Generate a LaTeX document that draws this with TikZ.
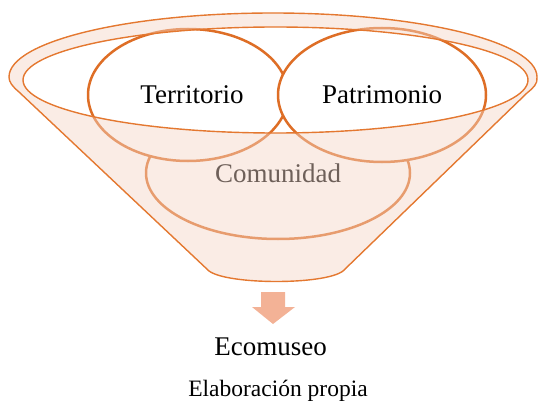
\documentclass[tikz,border=0pt]{standalone}
\usepackage{fontspec}
\setmainfont{Liberation Serif}
\usepackage{tikz}
\usetikzlibrary{shapes.geometric, positioning}
\definecolor{rimorange}{RGB}{228, 120, 48}
\definecolor{ringorange}{RGB}{222, 110, 38}
\definecolor{peachfill}{RGB}{244, 213, 198}
\definecolor{arrowsalmon}{RGB}{243, 178, 150}

\begin{document}
\begin{tikzpicture}[
    x=1pt, y=1pt,
    ring/.style={ellipse, draw=ringorange, line width=2.5pt, fill=white, inner sep=0pt, font=\fontsize{27pt}{30pt}\selectfont},
    rimline/.style={draw=rimorange, line width=1.4pt},
    funnelshape/.style={insert path={(9,-77) arc[start angle=180, end angle=0, x radius=264, y radius=64]
        .. controls (538,-84) and (533,-88) .. (527,-93) -- (343,-271)
        .. controls (325,-285) and (228,-285) .. (209,-271) -- (19,-92)
        .. controls (12,-86) and (9,-82) .. cycle}},
    label/.style={font=\fontsize{27pt}{30pt}\selectfont, inner sep=0pt, anchor=base}
]
    \useasboundingbox (0,0) rectangle (538,-401);

    % Nodes - circles inside the funnel
    \node[ring, minimum width=264pt, minimum height=132pt] (comunidad) at (278,-173) {Comunidad};
    \node[ring, minimum width=200pt, minimum height=132pt] (territorio) at (188,-95) {\hspace*{8pt}Territorio};
    \node[ring, minimum width=208pt, minimum height=134pt] (patrimonio) at (382,-95) {Patrimonio};
    \coordinate (rim) at (275.5,-80);

    % Funnel body, seen through
    \fill[peachfill, opacity=.45, even odd rule, funnelshape] (rim) ellipse [x radius=252.5, y radius=53];
    \draw[rimline, funnelshape];
    \draw[rimline] (rim) ellipse [x radius=252.5, y radius=53];

    % Arrow and result
    \fill[arrowsalmon] (261,-292) -- (285,-292) -- (285,-307) -- (295,-307) -- (273,-324) -- (252,-307) -- (261,-307) -- cycle;
    \node[label] (ecomuseo) at (270.5,-355) {Ecomuseo};
    \node[label, font=\fontsize{23.5pt}{26pt}\selectfont] (fuente) at (278,-396) {Elaboración propia};
\end{tikzpicture}
\end{document}
